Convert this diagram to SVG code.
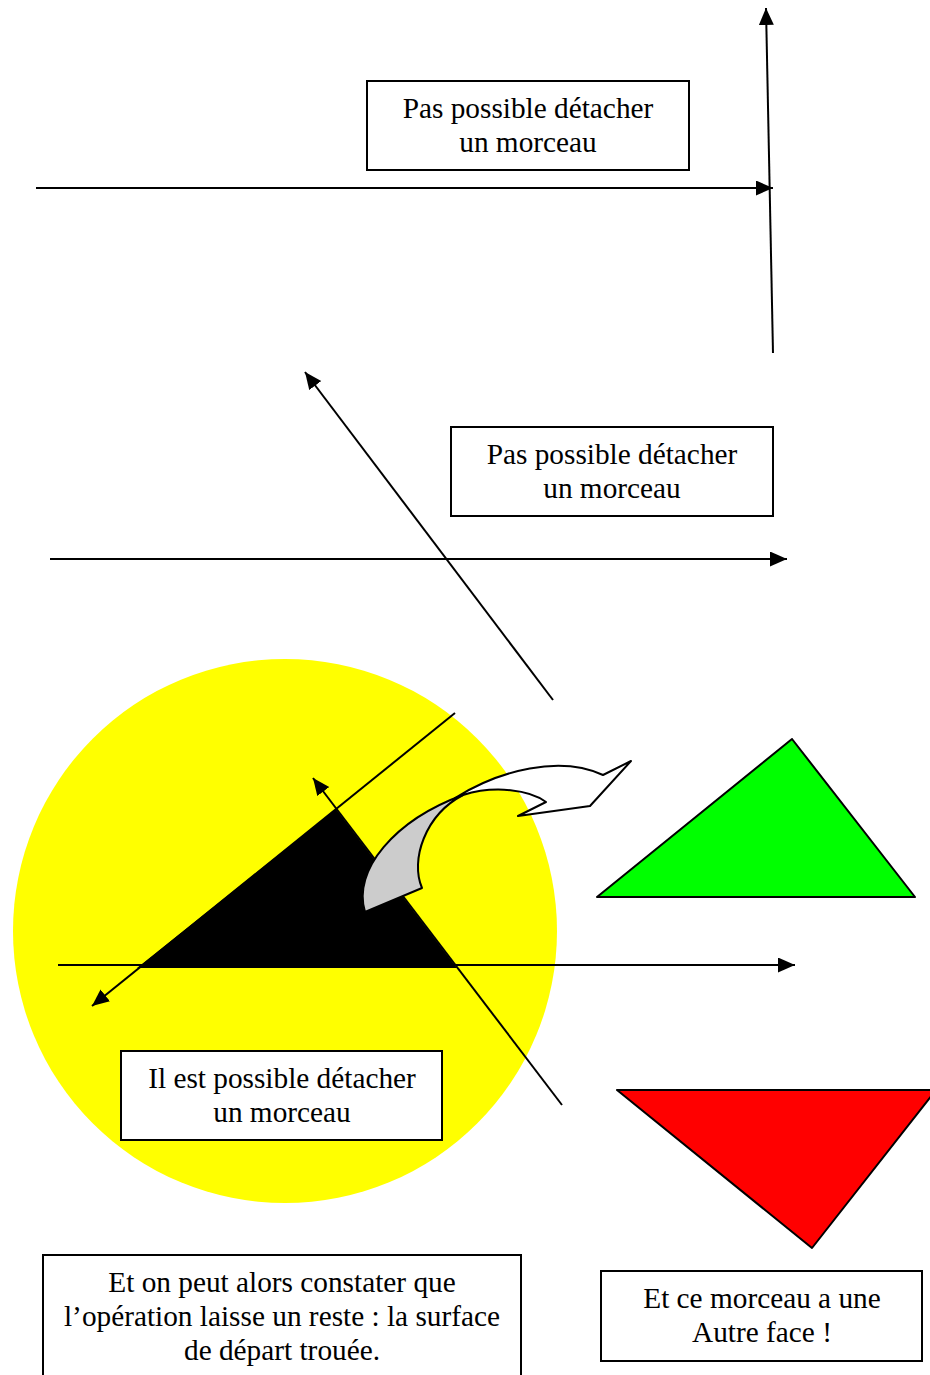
<svg xmlns="http://www.w3.org/2000/svg" width="930" height="1375" viewBox="0 0 930 1375">
<style>
.box{fill:#fff;stroke:#000;stroke-width:2}
.t{font-family:"Liberation Serif","Times New Roman",serif;font-size:29.3px;fill:#000;text-anchor:middle}
.ln{stroke:#000;stroke-width:2;fill:none}
.sh{stroke:#000;stroke-width:2;stroke-linejoin:round}
</style>
<defs>
<marker id="ah" markerUnits="userSpaceOnUse" markerWidth="20" markerHeight="16" refX="17" refY="7.5" orient="auto">
<path d="M0,0 L17,7.5 L0,15 Z" fill="#000"/>
</marker>
</defs>
<rect width="930" height="1375" fill="#fff"/>
<g id="circle"><circle cx="285" cy="931" r="272" fill="#ffff00"/></g>
<g id="black-triangle"><polygon points="137,968 336,809 457,968" fill="#000"/></g>
<g id="green-triangle"><polygon class="sh" points="597,897 792,739 915,897" fill="#00ff00"/></g>
<g id="red-triangle"><polygon class="sh" points="617,1090 936,1090 812,1248" fill="#ff0000"/></g>
<g id="connectors">
<line class="ln" x1="773" y1="353" x2="766" y2="8" marker-end="url(#ah)"/>
<line class="ln" x1="36" y1="188" x2="773" y2="188" marker-end="url(#ah)"/>
<line class="ln" x1="553" y1="700" x2="305" y2="372" marker-end="url(#ah)"/>
<line class="ln" x1="50" y1="559" x2="787" y2="559" marker-end="url(#ah)"/>
<line class="ln" x1="455" y1="713" x2="92" y2="1006" marker-end="url(#ah)"/>
<line class="ln" x1="562" y1="1105" x2="313" y2="778" marker-end="url(#ah)"/>
<line class="ln" x1="58" y1="965" x2="795" y2="965" marker-end="url(#ah)"/>
</g>
<g id="curved-arrow">
<path class="sh" fill="#fff" d="M 455 798 C 500 770, 560 755, 603 775 L 631 761 L 590 806 L 518 816 L 546 802 C 530 790, 495 785, 463 795 Z"/>
<path class="sh" fill="#cccccc" d="M 365 912 C 352 870, 395 820, 463 795 C 425 815, 410 860, 422 888 Z"/>
</g>
<g id="box1"><rect class="box" x="367" y="81" width="322" height="89"/>
<text class="t" x="528" y="118">Pas possible détacher</text><text class="t" x="528" y="152">un morceau</text></g>
<g id="box2"><rect class="box" x="451" y="427" width="322" height="89"/>
<text class="t" x="612" y="464">Pas possible détacher</text><text class="t" x="612" y="498">un morceau</text></g>
<g id="box3"><rect class="box" x="121" y="1051" width="321" height="89"/>
<text class="t" x="282" y="1088">Il est possible détacher</text><text class="t" x="282" y="1122">un morceau</text></g>
<g id="box4"><rect class="box" x="43" y="1255" width="478" height="130"/>
<text class="t" x="282" y="1292">Et on peut alors constater que</text><text class="t" x="282" y="1326">l’opération laisse un reste : la surface</text><text class="t" x="282" y="1360">de départ trouée.</text></g>
<g id="box5"><rect class="box" x="601" y="1271" width="321" height="90"/>
<text class="t" x="762" y="1308">Et ce morceau a une</text><text class="t" x="762" y="1342">Autre face !</text></g>
</svg>
